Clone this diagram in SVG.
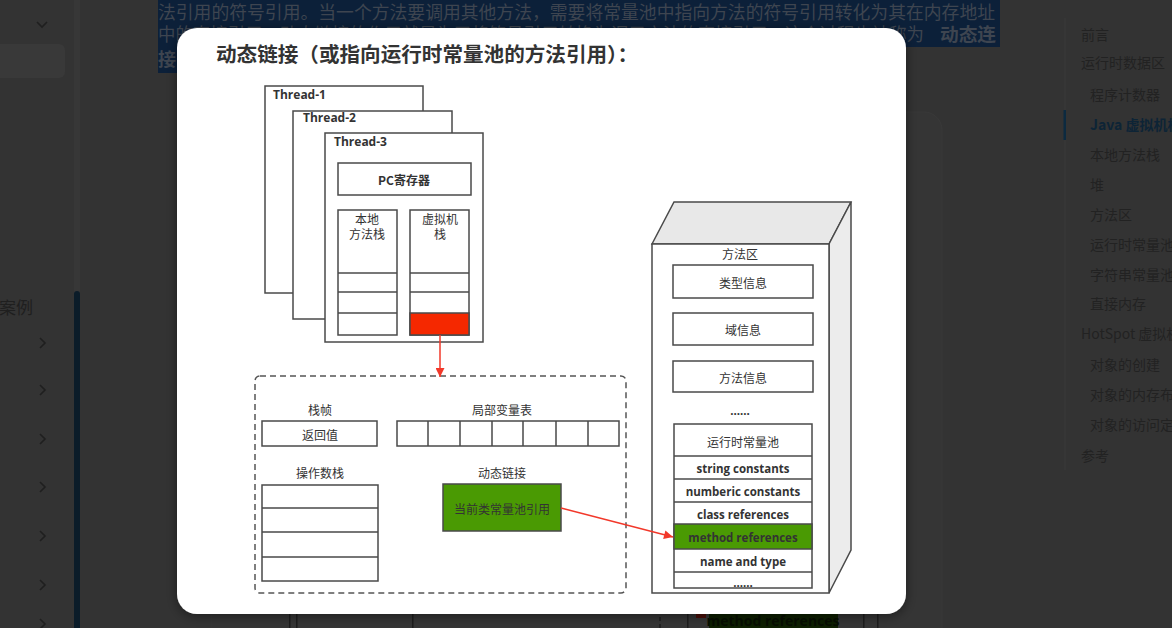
<svg xmlns="http://www.w3.org/2000/svg" width="1172" height="628" viewBox="0 0 1172 628">
<defs>
<style>
.toc{font-family:"Noto Sans CJK SC",sans-serif;font-size:14px;}
.sel{font-family:"Noto Sans CJK SC",sans-serif;font-size:18px;}
.chev{fill:none;stroke:#1f1f1f;stroke-width:1.6;}
.box{fill:#fff;stroke:#4a4a4a;stroke-width:1.5;}
.cn{font-family:"Noto Sans CJK SC",sans-serif;font-size:12px;fill:#333;text-anchor:middle;dominant-baseline:central;}
.en{font-family:"Open Sans","Noto Sans CJK SC",sans-serif;font-size:12px;font-weight:700;fill:#333;}
.enc{font-family:"Open Sans","Noto Sans CJK SC",sans-serif;font-size:11.5px;font-weight:700;fill:#333;text-anchor:middle;dominant-baseline:central;}
.red{stroke:#f2382a;stroke-width:1.5;fill:none;}
.green{fill:#4a9a03;stroke:#4a4a4a;stroke-width:1.5;}
.bgline{fill:#1d1d1d;}
</style>
<filter id="sh" x="-10%" y="-10%" width="120%" height="120%">
<feDropShadow dx="0" dy="2" stdDeviation="6" flood-color="#000" flood-opacity="0.45"/>
</filter>
<marker id="ah" viewBox="0 0 10 10" refX="10" refY="5" markerWidth="11" markerHeight="9" markerUnits="userSpaceOnUse" orient="auto">
<path d="M0,0 L10,5 L0,10 z" fill="#f2382a"/>
</marker>
</defs>

<g id="page">
<rect x="0" y="0" width="1172" height="628" fill="#333333"/>
<rect x="-6" y="44" width="71" height="34" rx="6" fill="#393939"/>
<path class="chev" d="M37,22 L42,27 L47,22"/>
<path class="chev" d="M40,338 L45,343 L40,348"/>
<path class="chev" d="M40,385 L45,390 L40,395"/>
<path class="chev" d="M40,434 L45,439 L40,444"/>
<path class="chev" d="M40,482 L45,487 L40,492"/>
<path class="chev" d="M40,531 L45,536 L40,541"/>
<path class="chev" d="M40,580 L45,585 L40,590"/>
<path class="chev" d="M40,619 L45,624 L40,629"/>
<text x="33" y="314" text-anchor="end" font-family="Noto Sans CJK SC, sans-serif" font-size="17" fill="#1f1f1f">案例</text>
<rect x="74" y="0" width="6" height="628" fill="#373737"/>
<rect x="74" y="291" width="6" height="340" rx="3" fill="#0b1c29"/>

<rect x="211" y="112" width="731" height="540" rx="18" fill="#353535" stroke="#393939"/>

<rect x="158" y="0" width="842" height="47" fill="#0c2039"/>
<rect x="158" y="47" width="60" height="26" fill="#0c2039"/>
<text class="sel" fill="#3e4550" x="158" y="19" textLength="837" lengthAdjust="spacingAndGlyphs">法引用的符号引用。当一个方法要调用其他方法，需要将常量池中指向方法的符号引用转化为其在内存地址</text>
<text class="sel" fill="#3e4550" x="158" y="41" textLength="766" lengthAdjust="spacingAndGlyphs">中的直接引用。动态链接的作用就是为了将符号引用转换为调用方法的直接引用，这个过程也被称为</text>
<text class="sel" fill="#3e4550" x="940" y="41" font-weight="700" textLength="56" lengthAdjust="spacingAndGlyphs">动态连</text>
<text class="sel" fill="#3e4550" x="158" y="66" font-weight="700">接</text>

<rect x="1064.5" y="18" width="1" height="452" fill="#3a3a3a"/>
<rect x="1063.5" y="110" width="2.5" height="30" fill="#0c2a40"/>
<g fill="#222222">
<text class="toc" fill="#222222" x="1081" y="40">前言</text>
<text class="toc" fill="#222222" x="1081" y="68">运行时数据区</text>
<text class="toc" fill="#222222" x="1090" y="100">程序计数器</text>
<text class="toc" x="1090" y="130" font-weight="700" fill="#0d2436">Java 虚拟机栈</text>
<text class="toc" fill="#222222" x="1090" y="160">本地方法栈</text>
<text class="toc" fill="#222222" x="1090" y="190">堆</text>
<text class="toc" fill="#222222" x="1090" y="220">方法区</text>
<text class="toc" fill="#222222" x="1090" y="250">运行时常量池</text>
<text class="toc" fill="#222222" x="1090" y="280">字符串常量池</text>
<text class="toc" fill="#222222" x="1090" y="309">直接内存</text>
<text class="toc" fill="#222222" x="1081" y="339">HotSpot 虚拟机</text>
<text class="toc" fill="#222222" x="1090" y="370">对象的创建</text>
<text class="toc" fill="#222222" x="1090" y="400">对象的内存布</text>
<text class="toc" fill="#222222" x="1090" y="430">对象的访问定</text>
<text class="toc" fill="#222222" x="1081" y="461">参考</text>
</g>

<rect class="bgline" x="289" y="610" width="1.5" height="18"/>
<rect class="bgline" x="296" y="610" width="1.5" height="18"/>
<rect class="bgline" x="412" y="610" width="1.5" height="18"/>
<line x1="660" y1="610" x2="660" y2="628" stroke="#1d1d1d" stroke-width="1.5" stroke-dasharray="4 3"/>
<rect class="bgline" x="687" y="610" width="1.5" height="18"/>
<rect x="696" y="610" width="10" height="8" fill="#4a0e08"/>
<rect x="709" y="610" width="129" height="20" fill="#0d1f00"/>
<text x="773" y="626" text-anchor="middle" font-family="Open Sans, sans-serif" font-size="14" font-weight="700" fill="#060d00">method references</text>
<rect class="bgline" x="863" y="610" width="1.5" height="18"/>
<rect class="bgline" x="877" y="610" width="1.5" height="18"/>
</g>

<rect id="modal" x="177" y="28" width="729" height="586" rx="20" fill="#ffffff" filter="url(#sh)"/>
<text id="title" x="216" y="62" font-family="Noto Sans CJK SC, sans-serif" font-size="20" font-weight="700" fill="#333" textLength="422" lengthAdjust="spacingAndGlyphs">动态链接（或指向运行时常量池的方法引用）：</text>

<g id="thread-1">
<rect class="box" x="265" y="86" width="158" height="207"/>
<text class="en" x="273" y="99">Thread-1</text>
</g>
<g id="thread-2">
<rect class="box" x="293" y="111" width="159" height="208"/>
<text class="en" x="303" y="122">Thread-2</text>
</g>
<g id="thread-3">
<rect class="box" x="325" y="133" width="158" height="209"/>
<text class="en" x="334" y="146">Thread-3</text>
</g>
<g id="pc">
<rect class="box" x="338" y="163" width="133" height="32"/>
<text class="cn" x="404" y="179" font-weight="700">PC寄存器</text>
</g>
<g id="native-stack">
<rect class="box" x="338" y="210" width="59" height="125"/>
<line x1="338" y1="273" x2="397" y2="273" stroke="#4a4a4a" stroke-width="1.5"/>
<line x1="338" y1="292" x2="397" y2="292" stroke="#4a4a4a" stroke-width="1.5"/>
<line x1="338" y1="313" x2="397" y2="313" stroke="#4a4a4a" stroke-width="1.5"/>
<text class="cn" x="367" y="218">本地</text>
<text class="cn" x="367" y="233">方法栈</text>
</g>
<g id="vm-stack">
<rect class="box" x="410" y="210" width="59" height="125"/>
<line x1="410" y1="273" x2="469" y2="273" stroke="#4a4a4a" stroke-width="1.5"/>
<line x1="410" y1="292" x2="469" y2="292" stroke="#4a4a4a" stroke-width="1.5"/>
<rect x="410" y="313" width="59" height="22" fill="#f52800" stroke="#4a4a4a" stroke-width="1.5"/>
<text class="cn" x="440" y="218">虚拟机</text>
<text class="cn" x="440" y="233">栈</text>
</g>

<g id="frame">
<rect x="255" y="376" width="371" height="217" rx="5" fill="none" stroke="#555" stroke-width="1.5" stroke-dasharray="6 4"/>
<text class="cn" x="320" y="409">栈帧</text>
<rect class="box" x="262" y="421" width="115" height="25"/>
<text class="cn" x="320" y="434">返回值</text>
<text class="cn" x="502" y="409">局部变量表</text>
<rect class="box" x="397" y="421" width="222" height="25"/>
<path d="M428,421 V446 M460,421 V446 M492,421 V446 M523,421 V446 M556,421 V446 M588,421 V446" stroke="#4a4a4a" stroke-width="1.5"/>
<text class="cn" x="320" y="472">操作数栈</text>
<rect class="box" x="262" y="485" width="116" height="96"/>
<path d="M262,508 H378 M262,532 H378 M262,557 H378" stroke="#4a4a4a" stroke-width="1.5"/>
<text class="cn" x="502" y="472">动态链接</text>
<rect class="green" x="443" y="484" width="118" height="47"/>
<text class="cn" x="502" y="508">当前类常量池引用</text>
</g>

<g id="method-area">
<polygon points="652,244 674,202 851,202 829,244" fill="#e8e8e8" stroke="#4a4a4a" stroke-width="1.5"/>
<polygon points="829,244 851,202 851,550 829,593" fill="#ececec" stroke="#4a4a4a" stroke-width="1.5"/>
<rect class="box" x="652" y="244" width="177" height="349"/>
<text class="cn" x="740" y="253">方法区</text>
<rect class="box" x="673" y="265" width="140" height="33"/>
<text class="cn" x="743" y="282">类型信息</text>
<rect class="box" x="673" y="313" width="140" height="32"/>
<text class="cn" x="743" y="329">域信息</text>
<rect class="box" x="673" y="361" width="140" height="31"/>
<text class="cn" x="743" y="377">方法信息</text>
<text class="enc" x="740" y="410" font-weight="400">......</text>
</g>

<g id="runtime-pool">
<rect class="box" x="674" y="424" width="138" height="164"/>
<text class="cn" x="743" y="441">运行时常量池</text>
<line x1="674" y1="456" x2="812" y2="456" stroke="#4a4a4a" stroke-width="1.5"/>
<text class="enc" x="743" y="468">string constants</text>
<line x1="674" y1="479" x2="812" y2="479" stroke="#4a4a4a" stroke-width="1.5"/>
<text class="enc" x="743" y="491">numberic constants</text>
<line x1="674" y1="502" x2="812" y2="502" stroke="#4a4a4a" stroke-width="1.5"/>
<text class="enc" x="743" y="514">class references</text>
<rect class="green" x="674" y="524" width="138" height="25"/>
<text class="enc" x="743" y="537" fill="#2a3a10">method references</text>
<text class="enc" x="743" y="561">name and type</text>
<line x1="674" y1="572" x2="812" y2="572" stroke="#4a4a4a" stroke-width="1.5"/>
<text class="enc" x="743" y="582" font-weight="400" font-size="9">......</text>
</g>

<g id="connectors">
<line class="red" x1="440" y1="335" x2="440" y2="377" marker-end="url(#ah)"/>
<line class="red" x1="561" y1="508" x2="673" y2="537" marker-end="url(#ah)"/>
</g>
</svg>
